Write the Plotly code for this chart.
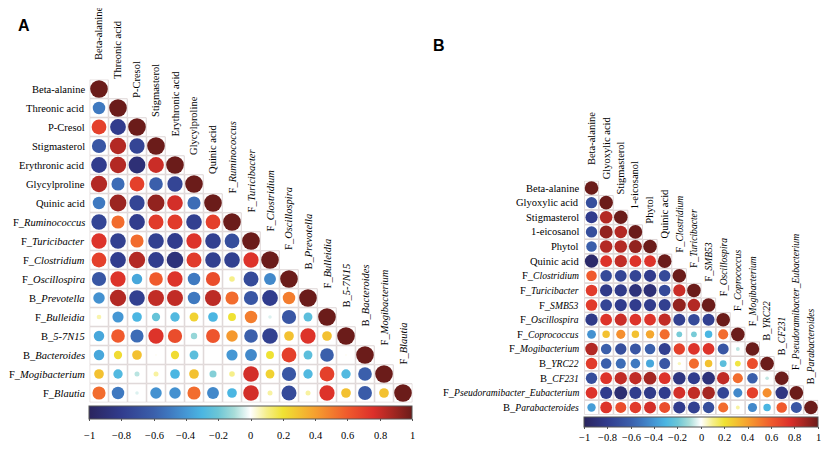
import re
import numpy as np
import plotly.graph_objects as go

# page pixels of the reference; the browser body adds an 8px margin
PAGE_W, PAGE_H = 829, 449
OFF = 8
W, H = PAGE_W - OFF, PAGE_H - OFF


def PX(x):
    return (x - OFF) / W


def PY(y):
    return 1 - (y - OFF) / H


# ---------------- Panel A data ----------------
a_labels = ["Beta-alanine", "Threonic acid", "P-Cresol", "Stigmasterol", "Erythronic acid",
            "Glycylproline", "Quinic acid", "F_<i>Ruminococcus</i>", "F_<i>Turicibacter</i>",
            "F_<i>Clostridium</i>", "F_<i>Oscillospira</i>", "B_<i>Prevotella</i>",
            "F_<i>Bulleidia</i>", "B_<i>5-7N15</i>", "B_<i>Bacteroides</i>",
            "F_<i>Mogibacterium</i>", "F_<i>Blautia</i>"]
a_rows = [
    [],
    [-0.50],
    [0.70, -0.80],
    [-0.65, 0.85, -0.75],
    [-0.80, 0.85, -0.90, 0.80],
    [0.85, -0.55, 0.70, -0.60, -0.75],
    [-0.50, 0.90, -0.75, 0.92, 0.78, -0.55],
    [-0.75, 0.55, -0.80, 0.72, 0.72, -0.78, 0.70],
    [0.75, -0.78, 0.55, -0.78, -0.80, 0.75, -0.78, -0.70],
    [0.70, -0.80, 0.85, -0.80, -0.88, 0.72, -0.78, -0.78, 0.75],
    [-0.65, 0.75, -0.35, 0.60, 0.75, -0.50, 0.65, 0.10, -0.72, -0.45],
    [-0.42, 0.85, -0.78, 0.82, 0.82, -0.50, 0.83, 0.55, -0.65, -0.80, 0.50],
    [0.07, -0.40, -0.30, -0.22, -0.28, 0.25, -0.30, 0.20, 0.50, -0.04, -0.65, -0.25],
    [-0.35, 0.60, -0.55, 0.75, 0.65, -0.13, 0.62, 0.42, -0.60, -0.78, 0.30, 0.75, 0.30],
    [-0.35, 0.22, 0.30, 0.01, 0.22, -0.25, 0.00, -0.40, -0.45, 0.20, 0.70, -0.25, -0.60, 0.01],
    [0.30, -0.28, -0.08, 0.08, -0.30, 0.30, -0.16, 0.10, 0.78, 0.25, -0.65, -0.28, 0.70, -0.28, -0.60],
    [0.55, -0.50, -0.04, -0.42, -0.42, 0.55, -0.45, -0.30, 0.78, 0.08, -0.72, 0.08, 0.75, 0.30, -0.62, 0.30],
]

# ---------------- Panel B data ----------------
b_labels = ["Beta-alanine", "Glyoxylic acid", "Stigmasterol", "1-eicosanol", "Phytol",
            "Quinic acid", "F_<i>Clostridium</i>", "F_<i>Turicibacter</i>", "F_<i>SMB53</i>",
            "F_<i>Oscillospira</i>", "F_<i>Coprococcus</i>", "F_<i>Mogibacterium</i>",
            "B_<i>YRC22</i>", "B_<i>CF231</i>", "F_<i>Pseudoramibacter_Eubacterium</i>",
            "B_<i>Parabacteroides</i>"]
b_rows = [
    [],
    [-0.70],
    [-0.80, 0.85],
    [-0.70, 0.92, 0.85],
    [-0.60, 0.85, 0.85, 0.92],
    [-0.95, 0.75, 0.82, 0.75, 0.75],
    [0.60, -0.72, -0.75, -0.75, -0.80, -0.72],
    [0.72, -0.82, -0.82, -0.88, -0.90, -0.72, 0.80],
    [0.72, -0.75, -0.80, -0.80, -0.80, -0.78, 0.92, 0.85],
    [-0.82, 0.75, 0.80, 0.75, 0.75, 0.82, -0.78, -0.72, -0.78],
    [-0.42, 0.30, 0.45, 0.30, 0.38, 0.55, -0.18, -0.18, -0.30, 0.55],
    [0.85, -0.60, -0.70, -0.65, -0.60, -0.78, 0.70, 0.75, 0.75, -0.65, -0.08],
    [0.72, -0.60, -0.55, -0.50, -0.35, -0.65, 0.06, 0.55, 0.30, -0.25, 0.18, 0.65],
    [-0.70, 0.75, 0.82, 0.82, 0.88, 0.75, -0.85, -0.80, -0.88, 0.82, 0.55, -0.60, -0.07],
    [0.75, -0.80, -0.92, -0.80, -0.82, -0.80, 0.78, 0.82, 0.88, -0.75, -0.45, 0.70, 0.45, -0.85],
    [-0.38, 0.75, 0.65, 0.72, 0.78, 0.65, -0.80, -0.78, -0.70, 0.55, 0.08, -0.45, -0.30, 0.60, -0.65],
]

cb_ticks = [-1, -0.8, -0.6, -0.4, -0.2, 0, 0.2, 0.4, 0.6, 0.8, 1]

colorscale = [
    [0.00, "#2a245e"], [0.10, "#313c8d"], [0.20, "#3b5fab"], [0.25, "#3f79c0"],
    [0.30, "#4597d4"], [0.35, "#4bb6e2"], [0.40, "#6cc6d6"], [0.45, "#a8ddd9"],
    [0.50, "#ffffff"], [0.55, "#f6ef8a"], [0.60, "#efe233"], [0.70, "#f6a02f"],
    [0.80, "#f05a2d"], [0.88, "#dc302a"], [0.94, "#a52722"], [1.00, "#6b1c1a"],
]

SERIF = "Liberation Serif"

fig = go.Figure()


def styled(lab, italic_size):
    if italic_size is None:
        return lab
    return re.sub(r"<i>(.*?)</i>",
                  lambda m: "<i><span style='font-size:%gpx'>%s</span></i>" % (italic_size, m.group(1)),
                  lab)


def add_panel(labels, rows, gx0, gx1, gy0, gy1, ax, fsize, italic_size, col_off,
              cb_y, cb_thick, cb_lab_y):
    n = len(labels)
    cell = (gx1 - gx0) / n
    cell_y = (gy1 - gy0) / n
    xs, ys, vals = [], [], []
    for i in range(n):
        for j in range(i + 1):
            xs.append(j + 1)
            ys.append(i + 1)
            vals.append(1.0 if i == j else rows[i][j])
    vals = np.array(vals)
    xname = "x" if ax == 1 else "x%d" % ax
    yname = "y" if ax == 1 else "y%d" % ax
    txt = [styled(l, italic_size) for l in labels]
    # cell frames
    fig.add_trace(go.Scatter(
        x=xs, y=ys, mode="markers", xaxis=xname, yaxis=yname, hoverinfo="skip",
        marker=dict(symbol="square", size=cell - 0.5, color="white", opacity=1,
                    line=dict(color="#ddd4d4", width=1)),
        showlegend=False))
    # circles
    fig.add_trace(go.Scatter(
        x=xs, y=ys, mode="markers", xaxis=xname, yaxis=yname,
        marker=dict(size=0.93 * cell * np.sqrt(np.abs(vals)), sizemode="diameter",
                    opacity=1,
                    color=vals, colorscale=colorscale, cmin=-1, cmax=1,
                    line=dict(width=0),
                    colorbar=dict(orientation="h", x=PX((gx0 + gx1) / 2), xanchor="center",
                                  y=PY(cb_y), yanchor="top", len=gx1 - gx0, lenmode="pixels",
                                  thickness=cb_thick, thicknessmode="pixels",
                                  xpad=0, ypad=0, outlinewidth=1, outlinecolor="#555",
                                  tickvals=cb_ticks, showticklabels=False,
                                  ticks="outside", ticklen=2, tickcolor="#555")),
        showlegend=False, hovertemplate="%{marker.color:.2f}<extra></extra>"))
    lay_x = "xaxis" if ax == 1 else "xaxis%d" % ax
    lay_y = "yaxis" if ax == 1 else "yaxis%d" % ax
    fig.update_layout(**{
        lay_x: dict(domain=[PX(gx0), PX(gx1)], range=[0.5, n + 0.5], showgrid=False,
                    zeroline=False, showticklabels=False, showline=False, fixedrange=True,
                    automargin=False, anchor=yname),
        lay_y: dict(domain=[PY(gy1), PY(gy0)], range=[n + 0.5, 0.5], showgrid=False,
                    zeroline=False, showline=False, showticklabels=False, ticks="",
                    automargin=False, anchor=xname, fixedrange=True),
    })
    font = dict(family=SERIF, size=fsize, color="black")
    for k, lab in enumerate(txt):
        # row label (left of the grid)
        fig.add_annotation(x=PX(gx0 - 4), y=k + 1, xref="paper", yref=yname, text=lab,
                           xanchor="right", yanchor="middle", showarrow=False, borderpad=0,
                           font=font)
        # column label (rotated, above the diagonal cell)
        bottom_px = gy0 + (k - col_off) * cell_y
        fig.add_annotation(x=k + 1, y=PY(bottom_px), xref=xname, yref="paper", text=lab,
                           textangle=-90, xanchor="center", yanchor="bottom",
                           showarrow=False, borderpad=0, font=font)
    # colour-bar tick labels
    for t in cb_ticks:
        fig.add_annotation(x=PX(gx0 + (t + 1) / 2 * (gx1 - gx0)), y=PY(cb_lab_y),
                           xref="paper", yref="paper", text=("%g" % t).replace("-", "−"),
                           xanchor="center", yanchor="middle", showarrow=False, borderpad=0,
                           font=dict(family=SERIF, size=10.5, color="black"))


add_panel(a_labels, a_rows, 89.5, 412.5, 79.5, 402.5, 1, 10.5, None, 0.95, 406, 13, 435)
add_panel(b_labels, b_rows, 584.2, 818.3, 180.7, 414.8, 2, 10.5, 9.6, 1.0, 417, 10, 437)

fig.add_annotation(x=PX(24), y=PY(25), xref="paper", yref="paper", text="<b>A</b>",
                   xanchor="center", yanchor="middle",
                   showarrow=False, font=dict(family="Liberation Sans", size=16, color="black"))
fig.add_annotation(x=PX(439), y=PY(46), xref="paper", yref="paper", text="<b>B</b>",
                   xanchor="center", yanchor="middle",
                   showarrow=False, font=dict(family="Liberation Sans", size=16, color="black"))

fig.update_layout(width=W, height=H, margin=dict(l=0, r=0, t=0, b=0, autoexpand=False),
                  paper_bgcolor="white", plot_bgcolor="white")
fig.write_html("out.html")
